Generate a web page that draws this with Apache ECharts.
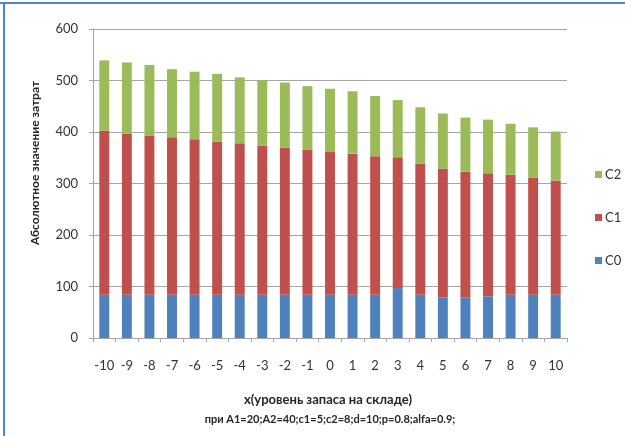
<!DOCTYPE html>
<html>
<head>
<meta charset="utf-8">
<script src="https://cdn.jsdelivr.net/npm/echarts@6/dist/echarts.min.js"></script>
<style>
  html, body { margin: 0; padding: 0; background: #ffffff; }
  #chart { width: 625px; height: 436px; }
</style>
</head>
<body>
<div id="chart"></div>
<script>
// Stock level x and the three cost components stacked per level
const categories = ['-10','-9','-8','-7','-6','-5','-4','-3','-2','-1','0','1','2','3','4','5','6','7','8','9','10'];
const c0 = [84, 84, 84, 84, 84, 84, 84, 84, 84, 84, 84, 84, 84, 97, 84, 79, 79, 81, 84, 84, 84];
const c1 = [319, 313, 309, 306, 302, 297, 294, 289, 286, 282, 277, 274, 269, 254, 255, 250, 244, 239, 233, 227, 222];
const c2 = [136, 138, 137, 132, 131, 132, 128, 128, 126, 123, 123, 121, 117, 111, 109, 107, 105, 104, 99, 98, 95];
const yTicks = [0, 100, 200, 300, 400, 500, 600];

const yAxisTitle = 'Абсолютное значение затрат';
const xAxisTitle = 'x(уровень запаса на складе)';
const paramsLine = 'при A1=20;A2=40;c1=5;c2=8;d=10;p=0.8;alfa=0.9;';

const FONT = 'Lato, "Open Sans", sans-serif';
const GRID_LEFT = 93, GRID_RIGHT = 58, GRID_TOP = 29, GRID_BOTTOM = 98;

const chart = echarts.init(document.getElementById('chart'), null, { renderer: 'canvas' });

function barSeries(name, data, color) {
  return {
    name: name,
    type: 'bar',
    stack: 'cost',
    data: data,
    barWidth: '44%',
    itemStyle: { color: color },
    emphasis: { disabled: true }
  };
}

chart.setOption({
  animation: false,
  backgroundColor: '#ffffff',
  textStyle: { fontFamily: FONT },
  grid: { left: GRID_LEFT, right: GRID_RIGHT, top: GRID_TOP, bottom: GRID_BOTTOM },
  legend: {
    orient: 'vertical',
    left: 590,
    top: 163,
    itemWidth: 7,
    itemHeight: 7,
    itemGap: 30,
    icon: 'rect',
    data: ['C2', 'C1', 'C0'],
    textStyle: { fontFamily: FONT, fontSize: 13, color: '#333333', padding: [0, 0, 0, -2] }
  },
  xAxis: {
    type: 'category',
    data: categories,
    boundaryGap: true,
    axisLine: { lineStyle: { color: '#a6a6a6', width: 1 } },
    axisTick: { show: true, alignWithLabel: false, length: 4, lineStyle: { color: '#a6a6a6' } },
    axisLabel: { interval: 0, margin: 21, fontFamily: FONT, fontSize: 13, color: '#333333' },
    splitLine: { show: false }
  },
  yAxis: {
    type: 'value',
    min: yTicks[0],
    max: yTicks[yTicks.length - 1],
    interval: 100,
    axisLine: { show: true, lineStyle: { color: '#a6a6a6', width: 1 } },
    axisTick: { show: true, length: 4, lineStyle: { color: '#a6a6a6' } },
    axisLabel: { margin: 15, fontFamily: FONT, fontSize: 13, color: '#333333' },
    splitLine: { show: true, lineStyle: { color: '#a6a6a6', width: 1 } }
  },
  graphic: [
    // frame lines along the top and left edges
    { type: 'rect', shape: { x: 0, y: 2, width: 625, height: 2 }, style: { fill: '#4a86d8' }, silent: true },
    { type: 'rect', shape: { x: 3, y: 2, width: 2, height: 434 }, style: { fill: '#4a86d8' }, silent: true },
    {
      type: 'text',
      x: 35, y: 163,
      rotation: Math.PI / 2,
      style: {
        text: yAxisTitle,
        fontFamily: FONT, fontSize: 12, fontWeight: 'bold',
        fill: '#262626', align: 'center', verticalAlign: 'middle'
      },
      silent: true
    },
    {
      type: 'text',
      x: 328, y: 400,
      style: {
        text: xAxisTitle,
        fontFamily: FONT, fontSize: 13, fontWeight: 'bold',
        fill: '#262626', align: 'center', verticalAlign: 'middle'
      },
      silent: true
    },
    {
      type: 'text',
      x: 330, y: 419,
      style: {
        text: paramsLine,
        fontFamily: FONT, fontSize: 11, fontWeight: 'bold',
        fill: '#262626', align: 'center', verticalAlign: 'middle'
      },
      silent: true
    }
  ],
  series: [
    barSeries('C0', c0, '#4f81bd'),
    barSeries('C1', c1, '#c0504d'),
    barSeries('C2', c2, '#9bbb59')
  ]
});
</script>
</body>
</html>
